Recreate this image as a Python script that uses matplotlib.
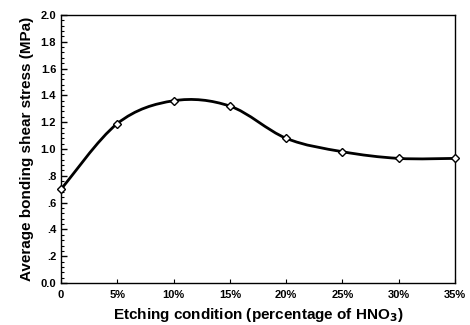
import numpy as np
import matplotlib as mpl
mpl.use('Agg')
from matplotlib import pyplot as plt
from matplotlib.path import Path
from matplotlib.patches import PathPatch
from matplotlib.ticker import MultipleLocator

# HNO3 percentage and measured bond shear stress
etch_pct = [0, 5, 10, 15, 20, 25, 30, 35]
stress = [0.70, 1.19, 1.36, 1.32, 1.08, 0.98, 0.93, 0.93]
xtick_labels = ['0', '5%', '10%', '15%', '20%', '25%', '30%', '35%']
ytick_vals = [0.0, 0.2, 0.4, 0.6, 0.8, 1.0, 1.2, 1.4, 1.6, 1.8, 2.0]
ytick_labels = ['0.0', '.2', '.4', '.6', '.8', '1.0', '1.2', '1.4', '1.6', '1.8', '2.0']

plt.rcParams['font.family'] = ['Liberation Sans', 'DejaVu Sans']
plt.rcParams['font.weight'] = 'bold'

fig = plt.figure(figsize=(4.7, 3.25), dpi=100)
ax = fig.add_axes([0.13, 0.129, 0.838, 0.825])


def smooth_path(x, y):
    """Catmull-Rom style bezier path through the points (drawing style only)"""
    x = np.asarray(x, float)
    y = np.asarray(y, float)
    verts = [(x[0], y[0])]
    codes = [Path.MOVETO]
    n = len(x)
    for i in range(n - 1):
        p0 = i - 1 if i > 0 else i
        p3 = i + 2 if i + 2 < n else i + 1
        c1 = (x[i] + (x[i + 1] - x[p0]) / 6.0, y[i] + (y[i + 1] - y[p0]) / 6.0)
        c2 = (x[i + 1] - (x[p3] - x[i]) / 6.0, y[i + 1] - (y[p3] - y[i]) / 6.0)
        verts += [c1, c2, (x[i + 1], y[i + 1])]
        codes += [Path.CURVE4] * 3
    return Path(verts, codes)


ax.add_patch(PathPatch(smooth_path(etch_pct, stress), facecolor='none',
                       edgecolor='black', lw=2.0, zorder=2))
ax.plot(etch_pct, stress, linestyle='none', marker='D', ms=4.5,
        mfc='white', mec='black', mew=1.0, zorder=3, clip_on=False)

ax.set_xlim(0, 35)
ax.set_ylim(0, 2.0)
ax.set_xticks(etch_pct)
ax.set_xticklabels(xtick_labels, fontsize=8)
ax.set_yticks(ytick_vals)
ax.set_yticklabels(ytick_labels, fontsize=8)
ax.yaxis.set_minor_locator(MultipleLocator(0.04))
ax.tick_params(axis='both', which='both', direction='in', top=False, right=False)
ax.tick_params(axis='y', which='major', length=4, width=1)
ax.tick_params(axis='y', which='minor', length=2, width=0.8)
ax.tick_params(axis='x', which='major', length=3, width=0.8, pad=5)
for s in ax.spines.values():
    s.set_linewidth(1.0)

ax.set_xlabel('Etching condition (percentage of HNO$_\\mathbf{3}$)', fontsize=11, fontweight='bold')
ax.set_ylabel('Average bonding shear stress (MPa)', fontsize=11, fontweight='bold', labelpad=5)

fig.savefig('out.png', dpi=100, facecolor='w')
